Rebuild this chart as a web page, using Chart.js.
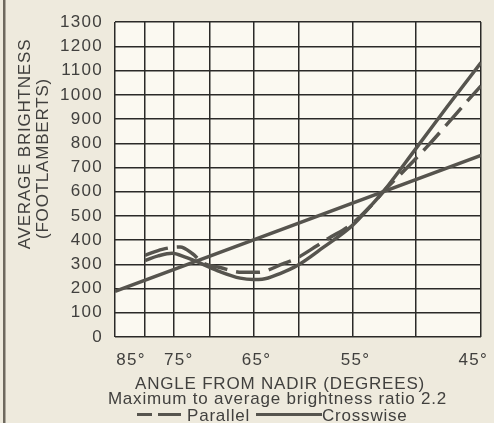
<!DOCTYPE html>
<html>
<head>
<meta charset="utf-8">
<script src="https://cdn.jsdelivr.net/npm/chart.js@4/dist/chart.umd.min.js"></script>
<style>
  html, body { margin: 0; padding: 0; background: #eeeadd; }
  #wrap { width: 494px; height: 423px; }
</style>
</head>
<body>
<div id="wrap"><canvas id="c" width="494" height="423"></canvas></div>
<script>
// Horizontal axis: position along the angle scale, 0 (left edge) to 100 (right edge)
const gridX = [0, 8.2, 16.1, 26.0, 37.8, 50.2, 64.9, 82.1, 100];
const angleTickPos = [4.4, 17.4, 38.7, 65.7, 97.9];
const angleTickLabels = ['85°', '75°', '65°', '55°', '45°'];

// Parallel (dashed)
const parallelX = [8.2, 12.9, 17.8, 21.1, 24.1, 28.7, 34.7, 39.1, 46.0, 49.2, 55.3, 58.3, 64.3, 69.8, 73.9, 78.0, 81.5, 85.4, 90.8, 96.3, 100];
const parallelY = [337, 362, 372, 345, 305, 287, 267, 267, 303, 322, 378, 407, 462, 540, 610, 672, 726, 788, 880, 975, 1037];

// Crosswise (solid)
const crossX = [8.2, 11.8, 15.6, 19.2, 23.3, 28.7, 34.2, 37.8, 40.2, 45.1, 49.8, 56.9, 64.8, 69.8, 73.3, 82.1, 90.8, 100];
const crossY = [316, 335, 346, 330, 305, 270, 243, 237, 238, 262, 295, 370, 460, 540, 600, 776, 952, 1133];

// Straight solid line across the plot
const lineX = [0, 100];
const lineY = [188, 750];

const INK = '#56544e';
const GRID = '#2b2a28';
const TEXT = '#41403e';
const FONT = 'Liberation Sans, Arial, Helvetica, sans-serif';

const pts = (xs, ys) => xs.map((x, i) => ({ x, y: ys[i] }));

const paper = {
  id: 'paper',
  beforeDraw(chart) {
    const { ctx, chartArea: a } = chart;
    ctx.save();
    ctx.fillStyle = '#eeeadd';
    ctx.fillRect(0, 0, chart.width, chart.height);
    ctx.fillStyle = '#fbf9f1';
    ctx.fillRect(a.left, a.top, a.right - a.left, a.bottom - a.top);
    // page edge on the left
    ctx.fillStyle = '#6e695e';
    ctx.fillRect(3, 0, 2.5, chart.height);
    ctx.restore();
    ctx.letterSpacing = '1.3px';
  },
  afterDraw(chart) {
    const ctx = chart.ctx;
    const ds = chart.data.datasets;
    ctx.save();
    ctx.letterSpacing = '0.8px';
    ctx.fillStyle = TEXT;
    ctx.font = '17px ' + FONT;

    // vertical axis title
    ctx.textAlign = 'center';
    ctx.textBaseline = 'middle';
    ctx.save();
    ctx.translate(25, 144);
    ctx.rotate(-Math.PI / 2);
    ctx.fillText('AVERAGE BRIGHTNESS', 0, 0);
    ctx.restore();
    ctx.save();
    ctx.translate(43.5, 158.5);
    ctx.rotate(-Math.PI / 2);
    ctx.fillText('(FOOTLAMBERTS)', 0, 0);
    ctx.restore();

    // horizontal axis title and note
    ctx.textBaseline = 'alphabetic';
    ctx.fillText('ANGLE FROM NADIR (DEGREES)', 280, 389);
    ctx.fillText('Maximum to average brightness ratio 2.2', 277.5, 403.5);

    // key
    ctx.strokeStyle = INK;
    ctx.lineWidth = 3;
    ctx.setLineDash([15, 6, 23, 100]);
    ctx.beginPath();
    ctx.moveTo(137, 414.5);
    ctx.lineTo(181, 414.5);
    ctx.stroke();
    ctx.setLineDash([]);
    ctx.beginPath();
    ctx.moveTo(256, 414.5);
    ctx.lineTo(322, 414.5);
    ctx.stroke();
    ctx.textAlign = 'left';
    ctx.fillText(ds[0].label, 187, 421);
    ctx.fillText(ds[1].label, 322, 421);
    ctx.restore();
  }
};

new Chart(document.getElementById('c'), {
  type: 'line',
  data: {
    datasets: [
      {
        label: 'Parallel',
        data: pts(parallelX, parallelY),
        borderColor: INK, borderWidth: 3.5, borderDash: [24, 9],
        pointRadius: 0, cubicInterpolationMode: 'monotone', fill: false
      },
      {
        label: 'Crosswise',
        data: pts(crossX, crossY),
        borderColor: INK, borderWidth: 3.5,
        pointRadius: 0, cubicInterpolationMode: 'monotone', fill: false
      },
      {
        label: 'Crosswise (straight)',
        data: pts(lineX, lineY),
        borderColor: INK, borderWidth: 3.5,
        pointRadius: 0, tension: 0, fill: false
      }
    ]
  },
  options: {
    responsive: false,
    animation: false,
    devicePixelRatio: 1,
    layout: { padding: { left: 0, right: 13, top: 21, bottom: 0 } },
    plugins: { legend: { display: false }, tooltip: { enabled: false } },
    scales: {
      x: {
        type: 'linear', position: 'bottom', min: 0, max: 100,
        grid: { display: false }, border: { display: false },
        afterBuildTicks: s => { s.ticks = angleTickPos.map(v => ({ value: v })); },
        ticks: {
          autoSkip: false, maxRotation: 0, padding: 5,
          color: TEXT, font: { family: FONT, size: 17 },
          callback: (v, i) => angleTickLabels[i]
        },
        afterFit: s => { s.height = 86; }
      },
      xGrid: {
        type: 'linear', position: 'top', min: 0, max: 100,
        afterBuildTicks: s => { s.ticks = gridX.map(v => ({ value: v })); },
        ticks: { display: false },
        grid: { color: GRID, lineWidth: 1.5, drawTicks: false },
        border: { display: false },
        afterFit: s => { s.height = 0; }
      },
      y: {
        min: 0, max: 1300,
        ticks: {
          stepSize: 100, padding: 12, color: TEXT, font: { family: FONT, size: 17 },
          callback: v => String(v)
        },
        grid: { color: GRID, lineWidth: 1.5, drawTicks: false },
        border: { display: false },
        afterFit: s => { s.width = 115; }
      }
    }
  },
  plugins: [paper]
});
</script>
</body>
</html>
